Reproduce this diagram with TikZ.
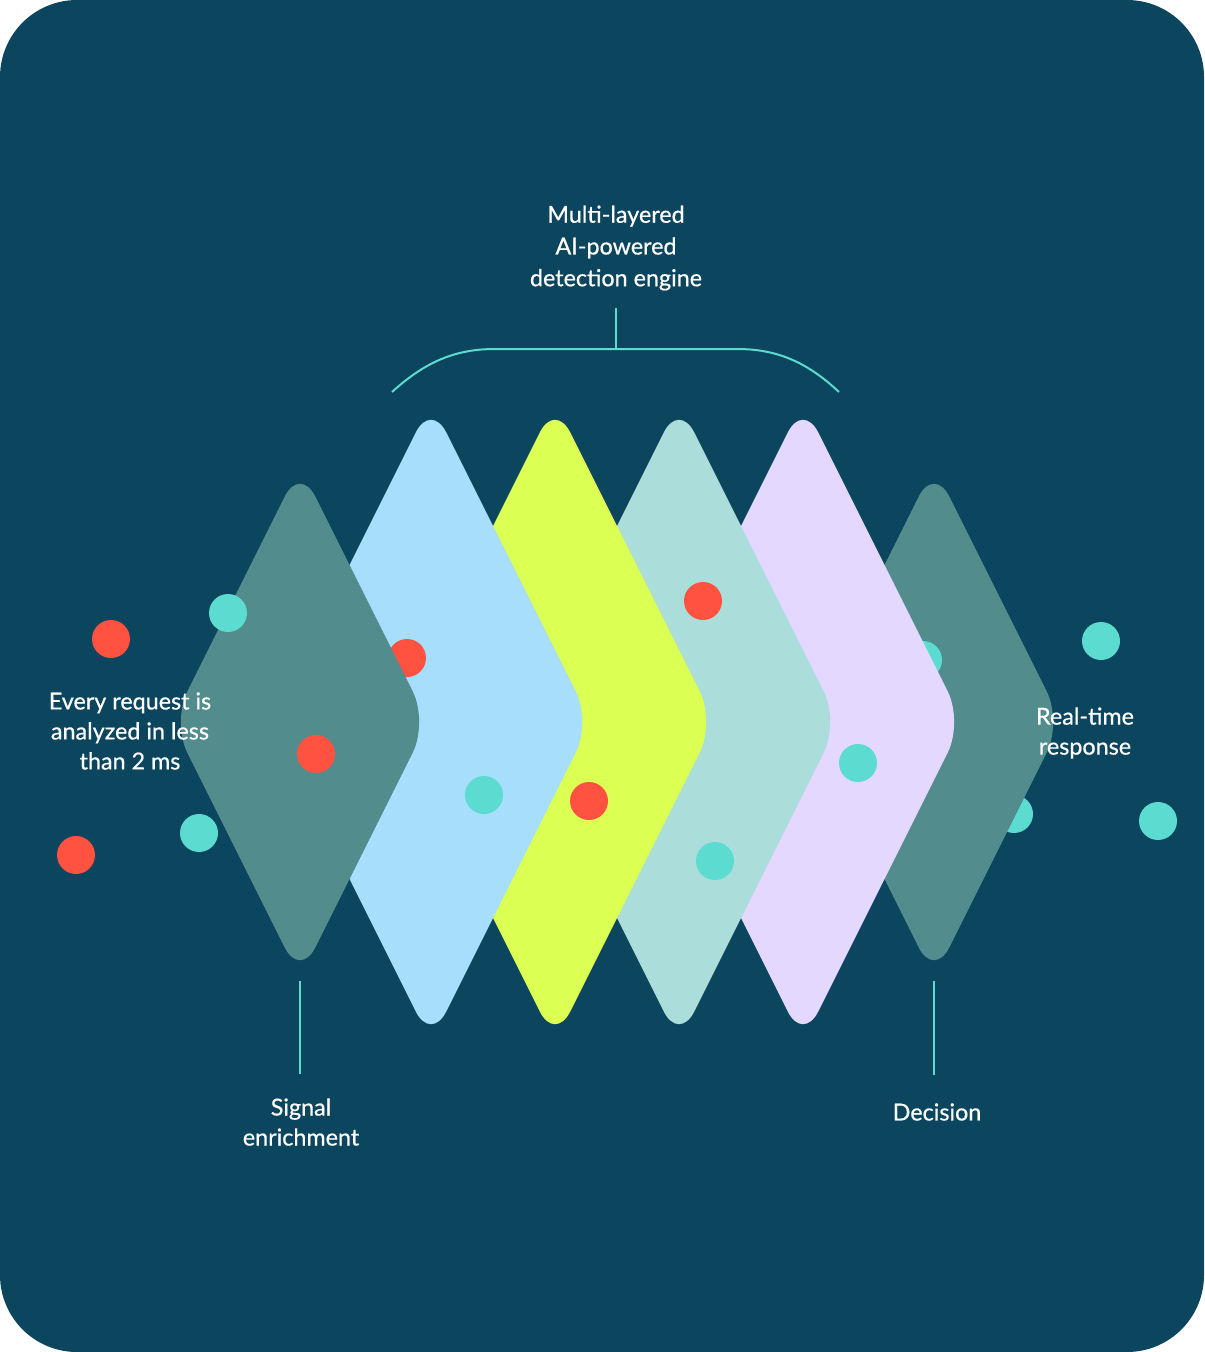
\documentclass[tikz,border=0pt]{standalone}
\usepackage{fontspec}
\setmainfont{Lato}[FakeBold=0.6]
\definecolor{bg}{HTML}{0C455E}
\definecolor{layergray}{HTML}{528C8C}
\definecolor{skyblue}{HTML}{A6DEFC}
\definecolor{layerlime}{HTML}{DBFF52}
\definecolor{paleteal}{HTML}{ABDDDA}
\definecolor{lavender}{HTML}{E4D8FE}
\definecolor{dotred}{HTML}{FF5240}
\definecolor{dotcyan}{HTML}{5CDBD0}
\tikzset{
  lbl/.style={text=white,align=center,inner sep=0pt,font=\fontsize{17.5}{22.5}\selectfont},
  leader/.style={draw=dotcyan,line width=1.5pt},
}

\begin{document}
\begin{tikzpicture}[x=0.75pt,y=-0.75pt]
  \useasboundingbox (0,0) rectangle (1204,1352);
  \fill[bg,rounded corners=57.75pt] (0,0) rectangle (1204,1352);

  % layers, back to front
  \fill[dotcyan] (1014,814) circle[radius=14.25pt];
  \fill[layergray,rounded corners=25.5pt] (934,466) -- ++(128,256) -- ++(-128,256) -- ++(-128,-256) -- cycle;
  \fill[dotcyan] (923,660) circle[radius=14.25pt];
  \fill[lavender,rounded corners=25.5pt] (803,402) -- ++(160,320) -- ++(-160,320) -- ++(-160,-320) -- cycle;
  \fill[paleteal,rounded corners=25.5pt] (679,402) -- ++(160,320) -- ++(-160,320) -- ++(-160,-320) -- cycle;
  \fill[layerlime,rounded corners=25.5pt] (555,402) -- ++(160,320) -- ++(-160,320) -- ++(-160,-320) -- cycle;
  \fill[skyblue,rounded corners=25.5pt] (431,402) -- ++(160,320) -- ++(-160,320) -- ++(-160,-320) -- cycle;
  \fill[dotred] (407,658) circle[radius=14.25pt];
  \fill[layergray,rounded corners=25.5pt] (300,466) -- ++(128,256) -- ++(-128,256) -- ++(-128,-256) -- cycle;

  % requests
  \foreach \x/\y in {111/639, 76/855, 316/754, 589/801, 703/601}
    \fill[dotred] (\x,\y) circle[radius=14.25pt];
  \foreach \x/\y in {228/613, 199/833, 484/795, 715/861, 858/763, 1101/641, 1158/821}
    \fill[dotcyan] (\x,\y) circle[radius=14.25pt];

  % labels
  \node[lbl,font=\fontsize{17.5}{23.8}\selectfont] (engine) at (616,248) {Multi-layered\\AI-powered\\detection engine};
  \node[lbl] (speed) at (130,731) {Every request is\\analyzed in less\\than 2 ms};
  \node[lbl] (response) at (1085,733) {Real-time\\response};
  \node[lbl] (signal) at (301,1122) {Signal\\enrichment};
  \node[lbl] (decision) at (937,1112) {Decision};

  % brace and leaders
  \coordinate (bracemid) at (616,349);
  \draw[leader] (392,392) .. controls (425,362) and (455,349) .. (495,349) -- (737,349)
    .. controls (777,349) and (807,362) .. (839,392);
  \draw[leader,shorten >=12.75pt] (bracemid) -- (engine.south -| bracemid);
  \coordinate (signaltop) at (300,981);
  \coordinate (decisiontop) at (934,981);
  \draw[leader,shorten >=18pt] (signaltop) -- (signal.north -| signaltop);
  \draw[leader,shorten >=21pt] (decisiontop) -- (decision.north -| decisiontop);
\end{tikzpicture}
\end{document}
